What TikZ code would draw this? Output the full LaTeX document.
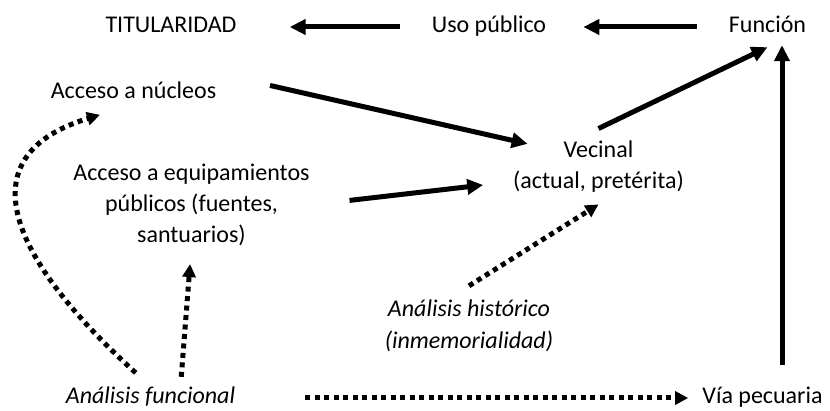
\documentclass[tikz,border=0pt]{standalone}
\usepackage{fontspec}
\setmainfont{Carlito}
\usetikzlibrary{arrows.meta}

\begin{document}
\begin{tikzpicture}[x=1pt,y=-1pt,
  txt/.style={font=\fontsize{24}{31}\selectfont, inner sep=0pt, text height=17pt, text depth=6pt},
  txtml/.style={font=\fontsize{24}{31}\selectfont, inner sep=0pt, align=center},
  solidarr/.style={line width=5pt, -{Triangle[length=16pt,width=15pt]}},
  dotarr/.style={line width=5pt, dash pattern={on 5pt off 4.5pt}, -{Triangle[length=13pt,width=13pt]}}]
\path[use as bounding box] (0,0) rectangle (830,411);

% Text Node
\node[txt] (tit) at (171,27) {TITULARIDAD};
% Text Node
\node[txt] (uso) at (489,27) {Uso público};
% Text Node
\node[txt] (fun) at (767.5,27) {Función};
% Text Node
\node[txt] (nuc) at (133.5,93) {Acceso a núcleos};
% Text Node
\node[txtml] (equip) at (191.5,205) {Acceso a equipamientos\\públicos (fuentes,\\santuarios)};
% Text Node
\node[txtml] (vec) at (598.5,166.5) {Vecinal\\(actual, pretérita)};
% Text Node
\node[txtml, font=\fontsize{24}{32}\selectfont\itshape] (hist) at (469,326) {Análisis histórico\\(inmemorialidad)};
% Text Node
\node[txt, font=\fontsize{24}{31}\selectfont\itshape] (funcional) at (150.5,398) {Análisis funcional};
% Text Node
\node[txt] (via) at (762.5,398) {Vía pecuaria};

%Straight Lines
\draw[solidarr, shorten <=32pt, shorten >=53pt] (uso) -- (tit);
\draw[solidarr, shorten <=32pt, shorten >=37pt] (fun) -- (uso);
\draw[solidarr, shorten <=55pt, shorten >=-15pt] ([yshift=8pt]nuc.north east) -- (vec.north west);
\draw[solidarr, shorten <=40pt, shorten >=30pt] (equip.east) -- (vec.190);
\draw[solidarr] ([yshift=12pt]vec.north) -- ([yshift=-8.5pt]fun.south);
\draw[solidarr, shorten <=21.5pt, shorten >=6.5pt] ([xshift=19.5pt]via.north) -- ([xshift=14.5pt]fun.south);

%Dotted Lines
\draw[dotarr] ([yshift=14pt]hist.north) -- ([yshift=-12pt]vec.south);
\draw[dotarr, shorten <=70pt, shorten >=14pt] (funcional) -- (via);
\draw[dotarr, shorten <=9.5pt, shorten >=18pt] ([xshift=30pt]funcional.north) -- (equip.south);
\draw[dotarr, shorten <=20pt, shorten >=35pt] (funcional.north) .. controls +(-148.5,-135) and +(-163.5,49.5) .. (nuc.south);

\end{tikzpicture}
\end{document}
